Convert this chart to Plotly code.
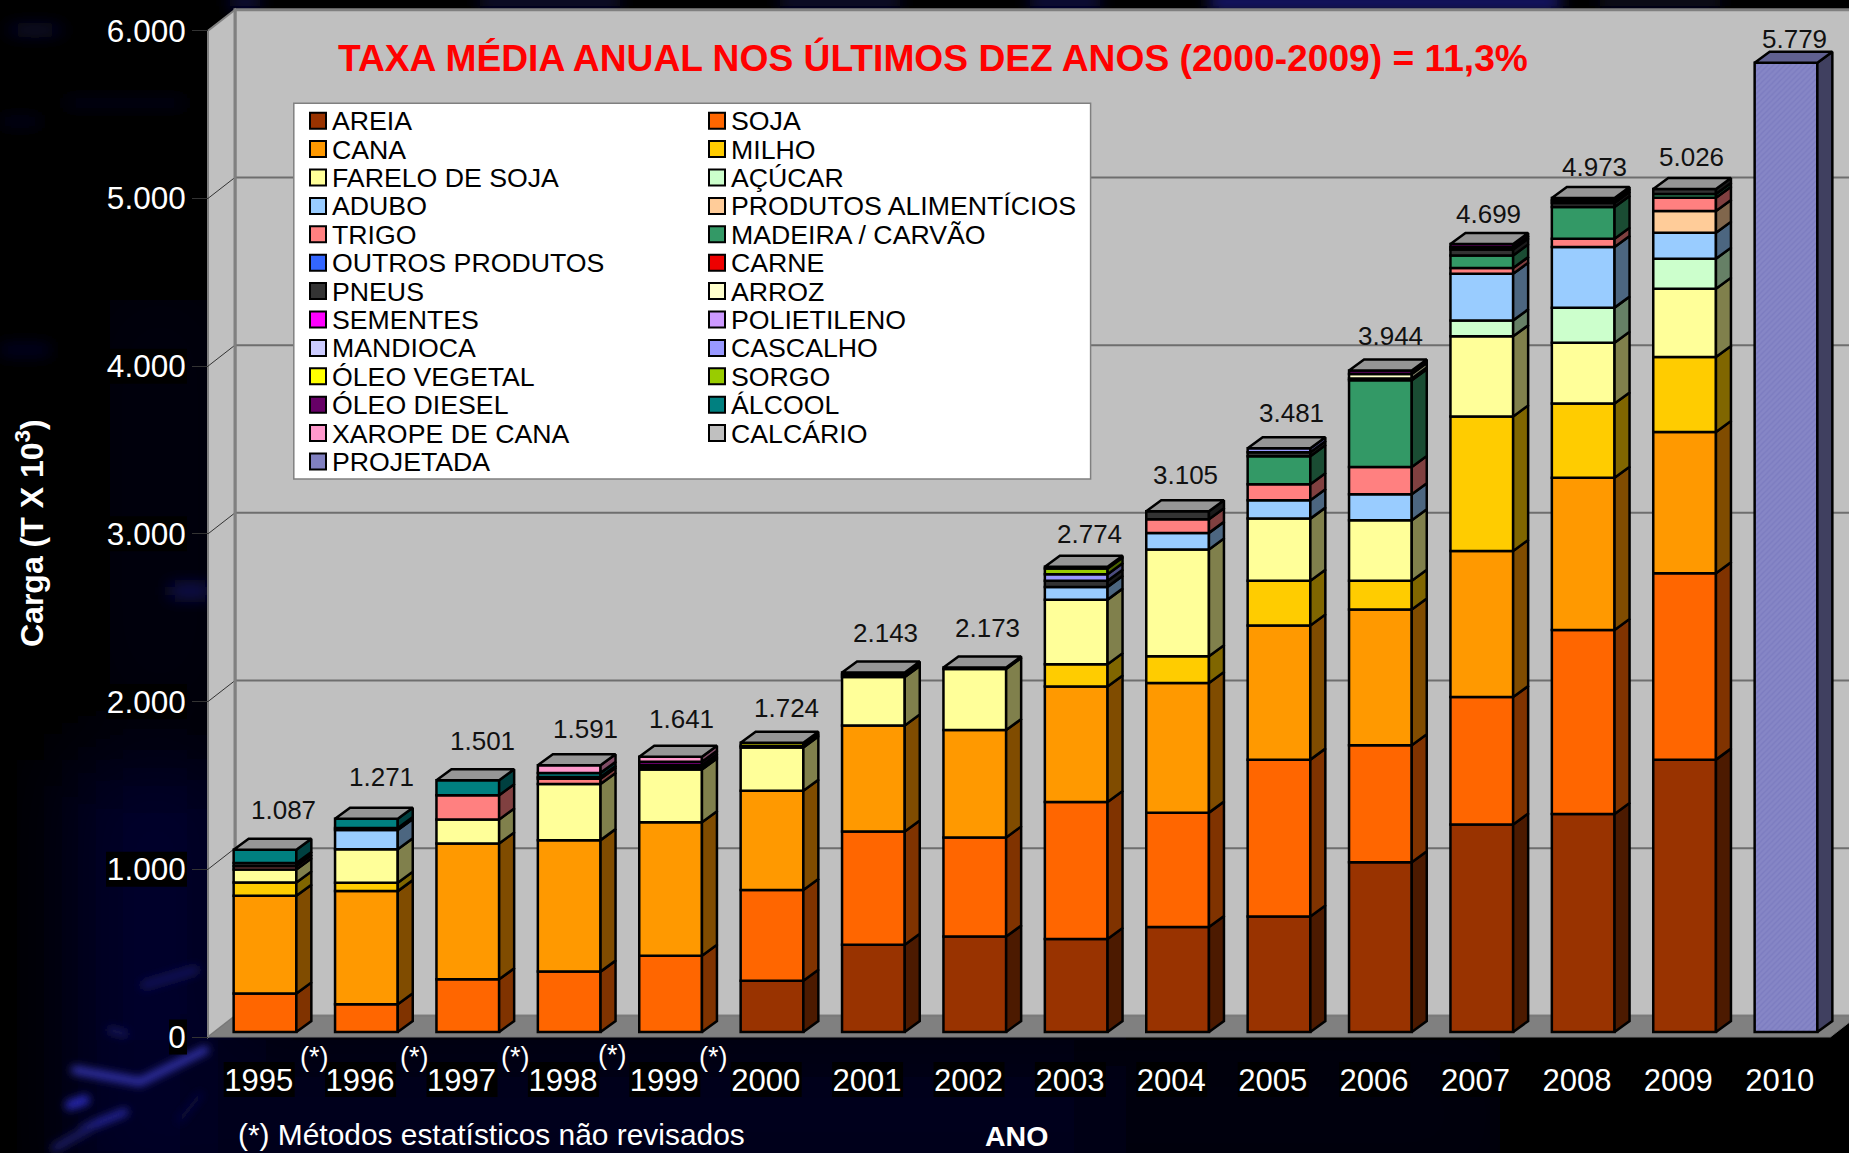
import base64
import plotly.graph_objects as go

W, H = 1849, 1153

years = [1995, 1996, 1997, 1998, 1999, 2000, 2001, 2002, 2003, 2004, 2005, 2006, 2007, 2008, 2009, 2010]
totals = [1087, 1271, 1501, 1591, 1641, 1724, 2143, 2173, 2774, 3105, 3481, 3944, 4699, 4973, 5026, 5779]

AREIA = [0, 0, 0, 0, 0, 306, 520, 569, 555, 626, 689, 1012, 1237, 1300, 1624, 0]
SOJA = [230, 165, 314, 360, 455, 540, 675, 591, 816, 682, 935, 698, 760, 1097, 1111, 0]
CANA = [582, 675, 810, 784, 795, 592, 633, 640, 689, 773, 800, 809, 871, 907, 843, 0]
MILHO = [80, 50, 0, 0, 0, 0, 0, 0, 133, 160, 266, 171, 802, 443, 446, 0]
FARELO = [77, 199, 143, 334, 315, 259, 288, 365, 385, 636, 371, 361, 478, 363, 408, 0]
ACUCAR = [0, 0, 0, 0, 0, 0, 0, 0, 0, 0, 0, 0, 95, 209, 179, 0]
ADUBO = [0, 115, 0, 0, 0, 0, 0, 0, 76, 99, 109, 155, 278, 361, 155, 0]
PROD_ALIM = [0, 0, 0, 0, 0, 0, 0, 0, 0, 0, 0, 0, 0, 0, 129, 0]
TRIGO = [20, 0, 145, 32, 0, 0, 0, 0, 0, 81, 96, 163, 34, 50, 79, 0]
MADEIRA = [0, 0, 0, 10, 0, 0, 0, 0, 0, 0, 167, 517, 75, 189, 22, 0]
OUTROS = [0, 12, 0, 0, 0, 0, 0, 0, 0, 0, 0, 0, 0, 0, 0, 0]
CARNE = [0, 0, 0, 0, 0, 0, 0, 0, 0, 0, 0, 0, 0, 0, 0, 0]
PNEUS = [18, 0, 0, 0, 10, 10, 15, 8, 36, 48, 24, 10, 35, 24, 30, 0]
ARROZ = [0, 0, 0, 0, 0, 0, 0, 0, 0, 0, 0, 28, 14, 15, 0, 0]
SEMENTES = [0, 0, 0, 0, 0, 0, 0, 0, 0, 0, 0, 0, 0, 0, 0, 0]
POLIETILENO = [0, 0, 0, 0, 0, 0, 0, 0, 0, 0, 0, 0, 0, 0, 0, 0]
MANDIOCA = [0, 0, 0, 0, 0, 0, 0, 0, 0, 0, 0, 0, 0, 0, 0, 0]
CASCALHO = [0, 0, 0, 0, 0, 0, 0, 0, 39, 0, 24, 0, 0, 0, 0, 0]
OLEO_VEG = [0, 0, 0, 0, 16, 17, 12, 0, 0, 0, 0, 0, 0, 0, 0, 0]
SORGO = [0, 0, 0, 0, 0, 0, 0, 0, 34, 0, 0, 0, 0, 0, 0, 0]
OLEO_DIESEL = [0, 0, 0, 0, 20, 0, 0, 0, 11, 0, 0, 20, 20, 15, 0, 0]
ALCOOL = [80, 55, 89, 25, 0, 0, 0, 0, 0, 0, 0, 0, 0, 0, 0, 0]
XAROPE = [0, 0, 0, 46, 30, 0, 0, 0, 0, 0, 0, 0, 0, 0, 0, 0]
CALCARIO = [0, 0, 0, 0, 0, 0, 0, 0, 0, 0, 0, 0, 0, 0, 0, 0]
PROJETADA = [0, 0, 0, 0, 0, 0, 0, 0, 0, 0, 0, 0, 0, 0, 0, 5779]

names = ["AREIA", "SOJA", "CANA", "MILHO", "FARELO DE SOJA", "AÇÚCAR", "ADUBO", "PRODUTOS ALIMENTÍCIOS",
         "TRIGO", "MADEIRA / CARVÃO", "OUTROS PRODUTOS", "CARNE", "PNEUS", "ARROZ", "SEMENTES", "POLIETILENO",
         "MANDIOCA", "CASCALHO", "ÓLEO VEGETAL", "SORGO", "ÓLEO DIESEL", "ÁLCOOL", "XAROPE DE CANA",
         "CALCÁRIO", "PROJETADA"]
values = [AREIA, SOJA, CANA, MILHO, FARELO, ACUCAR, ADUBO, PROD_ALIM, TRIGO, MADEIRA, OUTROS, CARNE, PNEUS,
          ARROZ, SEMENTES, POLIETILENO, MANDIOCA, CASCALHO, OLEO_VEG, SORGO, OLEO_DIESEL, ALCOOL, XAROPE,
          CALCARIO, PROJETADA]
colors = ["#993300", "#FF6600", "#FF9900", "#FFCC00", "#FFFF99", "#CCFFCC", "#99CCFF", "#FFCC99",
          "#FF8080", "#339966", "#3366FF", "#EE0000", "#333333", "#FFFFCC", "#FF00FF", "#CC99FF",
          "#CCCCFF", "#9999FF", "#FFFF00", "#99CC00", "#660066", "#008080", "#FF99CC", "#C0C0C0", "#8080C0"]

y_ticks = [0, 1000, 2000, 3000, 4000, 5000, 6000]
y_tick_text = ["0", "1.000", "2.000", "3.000", "4.000", "5.000", "6.000"]
title_text = "TAXA MÉDIA ANUAL NOS ÚLTIMOS DEZ ANOS (2000-2009) = 11,3%"
note_text = "(*) Métodos estatísticos não revisados"

# data label nudges, pixels, relative to the front top of each bar
label_dx = [18, 15, 15, 16, 11, 14, 12, 13, 13, 8, 12, 10, 7, 11, 7, 8]
label_dy = [40, 42, 39, 36, 38, 35, 40, 40, 33, 36, 35, 35, 30, 31, 32, 24]
star_px = [(314, 1057), (414, 1057), (515, 1057), (612, 1055), (713, 1057)]

# page geometry
SLOT_PX, SLOT0_PX = 101.4, 258.7
UNIT_PX, ZERO_PX = 1006.3 / 6000, 1037.0
FONT = "Liberation Sans"


def sx(px):
    return (px - SLOT0_PX) / SLOT_PX


def vy(py):
    return (ZERO_PX - py) / UNIT_PX


def dsx(px):
    return px / SLOT_PX


def dvy(px):
    return px / UNIT_PX


def shade(hex_color, f):
    r, g, b = (int(hex_color[i:i + 2], 16) for i in (1, 3, 5))
    return f"rgb({round(r * f)},{round(g * f)},{round(b * f)})"


BAR_W = dsx(62.7)
BAR_OFF = dsx(6.3)
BASE = dvy(5)
BAR_DX, BAR_DY = dsx(15), dvy(11)
WALL_DX, WALL_DY = dsx(27), dvy(21)
EDGE = 2.5
slots = list(range(len(years)))
LEFT, RIGHT = -0.5, len(years) - 0.5

# background: soft navy glow, only decoration behind the chart
bg_svg = f'''<svg xmlns="http://www.w3.org/2000/svg" width="{W}" height="{H}" viewBox="0 0 {W} {H}">
<defs>
<filter id="b2" x="-50%" y="-100%" width="200%" height="300%"><feGaussianBlur stdDeviation="4"/></filter>
<filter id="b8" x="-50%" y="-100%" width="200%" height="300%"><feGaussianBlur stdDeviation="8"/></filter>
<filter id="b30" x="-50%" y="-50%" width="200%" height="200%"><feGaussianBlur stdDeviation="40"/></filter>
</defs>
<rect width="{W}" height="{H}" fill="#000"/>
<g filter="url(#b30)">
<rect x="70" y="760" width="170" height="440" fill="#00002c"/>
<rect x="180" y="1040" width="1000" height="150" fill="#00001e"/>
<rect x="1100" y="1040" width="400" height="150" fill="#00000e"/>
<rect x="110" y="300" width="100" height="400" fill="#00000e"/>
</g>
<g filter="url(#b8)">
<ellipse cx="35" cy="30" rx="30" ry="4" fill="#12124a"/>
<rect x="0" y="118" width="40" height="7" fill="#08082c"/>
<rect x="0" y="346" width="50" height="8" fill="#0c0c3a"/>
<rect x="170" y="585" width="40" height="12" fill="#141460"/>
<rect x="65" y="100" width="120" height="6" fill="#08082a"/>
<rect x="230" y="-4" width="30" height="12" fill="#101050"/>
<rect x="480" y="-4" width="140" height="12" fill="#0a0a40"/>
<rect x="780" y="-4" width="120" height="12" fill="#0a0a40"/>
<rect x="1030" y="-4" width="70" height="12" fill="#10105a"/>
<rect x="1210" y="-4" width="350" height="12" fill="#2020a0"/>
<rect x="1600" y="-4" width="120" height="12" fill="#08082c"/>
</g>
<g filter="url(#b2)" fill="none" stroke-linecap="round">
<path d="M75 1070 L140 1082 L205 1050" stroke="#3434b0" stroke-width="8"/>
<path d="M70 1105 L85 1100" stroke="#2a2ab8" stroke-width="10"/>
<path d="M85 1128 L125 1112" stroke="#2c2ca8" stroke-width="7"/>
<path d="M55 1148 L90 1128" stroke="#1a1a68" stroke-width="8"/>
<path d="M145 985 L195 970" stroke="#141458" stroke-width="9"/>
<path d="M110 1030 L125 1034" stroke="#1c1c64" stroke-width="6"/>
<path d="M180 1120 L200 1095" stroke="#0a0a40" stroke-width="6"/>
</g>
</svg>'''
bg_uri = "data:image/svg+xml;base64," + base64.b64encode(bg_svg.encode()).decode()

fig = go.Figure()

# front faces of the bars, stacked from the series
cum = [BASE] * len(years)
for name, vals, col in zip(names, values, colors):
    marker = dict(color=col, line=dict(color="#000", width=EDGE))
    if name == "PROJETADA":
        marker["pattern"] = dict(shape="/", size=4, solidity=0.35, fgcolor="#7c7cc0", bgcolor="#8686c6", fillmode="replace")
    fig.add_trace(go.Bar(
        name=name, x=slots, y=[v if v else None for v in vals], base=list(cum),
        width=BAR_W, offset=BAR_OFF - BAR_W / 2, marker=marker, showlegend=False,
    ))
    # side face of every stacked segment
    sx_pts, sy_pts = [], []
    for i, v in enumerate(vals):
        if not v:
            continue
        xr = i + BAR_OFF + BAR_W / 2
        b = cum[i]
        sx_pts += [xr, xr + BAR_DX, xr + BAR_DX, xr, xr, None]
        sy_pts += [b, b + BAR_DY, b + v + BAR_DY, b + v, b, None]
        cum[i] += v
    if sx_pts:
        fig.add_trace(go.Scatter(
            x=sx_pts, y=sy_pts, mode="lines", fill="toself", fillcolor=shade(col, 0.5),
            line=dict(color="#000", width=EDGE), hoverinfo="skip", showlegend=False,
        ))

# top faces
for i, t in enumerate(totals):
    xl = i + BAR_OFF - BAR_W / 2
    xr = xl + BAR_W
    top = BASE + t
    col = shade(colors[-1], 0.75) if years[i] == 2010 else "#969696"
    fig.add_trace(go.Scatter(
        x=[xl, xl + BAR_DX, xr + BAR_DX, xr, xl], y=[top, top + BAR_DY, top + BAR_DY, top, top],
        mode="lines", fill="toself", fillcolor=col, line=dict(color="#000", width=EDGE),
        hoverinfo="skip", showlegend=False,
    ))

shapes = []
GREY = "#808080"
wall_top = y_ticks[-1] + WALL_DY
# back wall
shapes.append(dict(type="rect", xref="x", yref="y", layer="below", x0=LEFT + WALL_DX, x1=RIGHT + 2 * WALL_DX,
                   y0=WALL_DY, y1=wall_top, fillcolor="#C0C0C0", line=dict(color=GREY, width=3)))
# left wall
shapes.append(dict(type="path", xref="x", yref="y", layer="below",
                   path=f"M {LEFT} 0 L {LEFT + WALL_DX} {WALL_DY} L {LEFT + WALL_DX} {wall_top} L {LEFT} {y_ticks[-1]} Z",
                   fillcolor="#C0C0C0", line=dict(color=GREY, width=2)))
# floor
shapes.append(dict(type="path", xref="x", yref="y", layer="below",
                   path=f"M {LEFT} 0 L {LEFT + WALL_DX} {WALL_DY} L {RIGHT + WALL_DX} {WALL_DY} L {RIGHT} 0 Z",
                   fillcolor=GREY, line=dict(color="#777777", width=1)))
# grid lines on both walls
for t in y_ticks[1:-1]:
    shapes.append(dict(type="line", xref="x", yref="y", layer="below", x0=LEFT + WALL_DX, x1=RIGHT + 2 * WALL_DX,
                       y0=t + WALL_DY, y1=t + WALL_DY, line=dict(color="#6e6e6e", width=2)))
    shapes.append(dict(type="line", xref="x", yref="y", layer="below", x0=LEFT, x1=LEFT + WALL_DX,
                       y0=t, y1=t + WALL_DY, line=dict(color="#333333", width=1)))
# vertical edge of the back wall again, over the grid
shapes.append(dict(type="line", xref="x", yref="y", layer="below", x0=LEFT + WALL_DX, x1=LEFT + WALL_DX,
                   y0=WALL_DY, y1=wall_top, line=dict(color=GREY, width=3)))


def pbox(x0, y0, x1, y1, **kw):
    return dict(type="rect", xref="paper", yref="paper", x0=x0 / W, x1=x1 / W, y0=1 - y0 / H, y1=1 - y1 / H, **kw)


def ptext(x, y, text, size, color="#fff", bold=False, anchor="center", **kw):
    t = f"<b>{text}</b>" if bold else text
    return dict(xref="paper", yref="paper", x=x / W, y=1 - y / H, text=t, showarrow=False,
                xanchor=anchor, yanchor="middle", font=dict(family=FONT, size=size, color=color), **kw)


# black plates behind the axis labels
for t in y_ticks:
    cy = ZERO_PX - t * UNIT_PX
    w = 81 if t else 18
    shapes.append(pbox(187 - w, cy - 17.5, 187, cy + 17.5, fillcolor="#000", line=dict(width=0), layer="below"))
for i in slots[:-1]:
    cx = SLOT0_PX + i * SLOT_PX
    shapes.append(pbox(cx - 35, 1062, cx + 36, 1097, fillcolor="#000", line=dict(width=0), layer="below"))

# legend, two columns filled row by row
LEG_X = (293.8, 1090.6)
LEG_Y = (103.3, 479)
shapes.append(pbox(LEG_X[0], LEG_Y[0], LEG_X[1], LEG_Y[1], fillcolor="#fff", line=dict(color=GREY, width=1.5), layer="above"))
annotations = []
for k, (name, col) in enumerate(zip(names, colors)):
    row, column = k // 2, k % 2
    cy = 120.7 + row * 28.4
    sw_x = 310 if column == 0 else 709
    shapes.append(pbox(sw_x, cy - 8, sw_x + 16, cy + 8, fillcolor=col, line=dict(color="#000", width=2), layer="above"))
    annotations.append(ptext(sw_x + 20, cy + 0.5, name, 26.7, color="#000", anchor="left"))

# data labels
for i, t in enumerate(totals):
    annotations.append(dict(
        x=i + BAR_OFF, y=BASE + t, xref="x", yref="y", text=f"{t:,}".replace(",", "."), showarrow=False,
        xanchor="center", yanchor="middle", xshift=label_dx[i], yshift=label_dy[i],
        font=dict(family=FONT, size=26, color="#111"),
    ))

annotations.append(ptext(933, 58, title_text, 37.2, color="#FF0000", bold=True))
annotations.append(ptext(492, 1134, note_text, 29.9))
annotations.append(ptext(1016, 1136, "ANO", 28.5, bold=True))
annotations.append(ptext(30, 533, "Carga (T X 10<sup>3</sup>)", 32, bold=True, textangle=-90))
for sx_px, sy_px in star_px:
    annotations.append(ptext(sx_px, sy_px, "(*)", 27))

fig.update_layout(
    width=W, height=H, margin=dict(l=0, r=0, t=0, b=0), autosize=False,
    paper_bgcolor="#000", plot_bgcolor="rgba(0,0,0,0)", hovermode=False, showlegend=False,
    barmode="overlay",
    font=dict(family=FONT, color="#fff"),
    images=[dict(source=bg_uri, xref="paper", yref="paper", x=0, y=1, sizex=1, sizey=1,
                 sizing="stretch", xanchor="left", yanchor="top", layer="below")],
    shapes=shapes, annotations=annotations,
    xaxis=dict(
        domain=[0, 1], range=[sx(0), sx(W)], anchor="free", position=1 - ZERO_PX / H,
        tickmode="array", tickvals=slots, ticktext=[str(y) for y in years],
        tickfont=dict(family=FONT, size=31, color="#fff"), ticks="", ticklen=0,
        ticklabelstandoff=22, showgrid=False, zeroline=False, showline=False,
    ),
    yaxis=dict(
        domain=[0, 1], range=[vy(H), vy(0)], anchor="free", position=208 / W,
        tickmode="array", tickvals=y_ticks, ticktext=y_tick_text,
        tickfont=dict(family=FONT, size=31.5, color="#fff"), ticks="outside", ticklen=16, tickcolor="#333333",
        tickwidth=1, showgrid=False, zeroline=False, showline=False,
    ),
)

fig.write_html("out.html", config=dict(displayModeBar=False),
               post_script="document.documentElement.style.overflow='hidden';document.body.style.margin='0';")
